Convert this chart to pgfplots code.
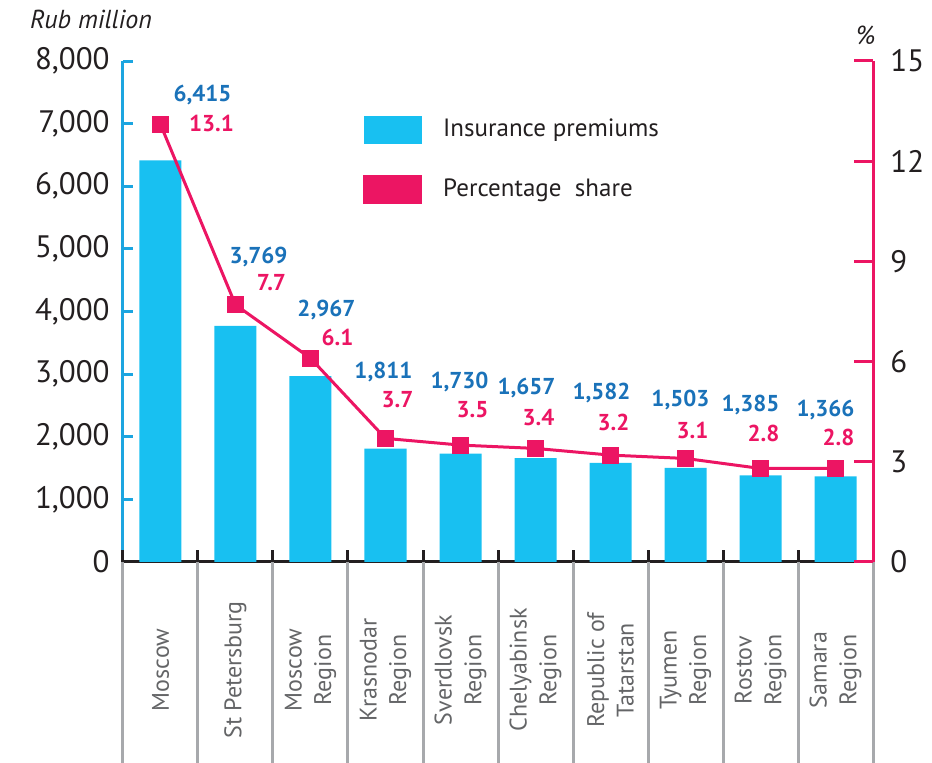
\documentclass[border=0pt]{standalone}
\usepackage{pgfplots}
\pgfplotsset{compat=1.18}
\usepackage{fontspec}
\setmainfont{PT Sans}
\definecolor{barcyan}{HTML}{18C0F1}
\definecolor{lblblue}{HTML}{1A72B9}
\definecolor{pinkc}{HTML}{EC1563}
\definecolor{axblue}{HTML}{1CA5E0}
\definecolor{txt}{HTML}{231F20}
\definecolor{sepgray}{HTML}{A7A9AC}
\begin{document}
\begin{tikzpicture}
\useasboundingbox (-61.5pt,-100.5pt) rectangle (404.5pt,281pt);
\begin{axis}[
  scale only axis, width=375pt, height=250.5pt,
  xmin=-0.5, xmax=9.5, ymin=0, ymax=8000,
  axis x line*=bottom, axis y line*=left,
  clip=false,
  x axis line style={txt, line width=1.5pt, -},
  y axis line style={axblue, line width=1.5pt, -},
  ytick={0,1000,...,8000},
  ytick style={axblue, line width=1.5pt},
  tick align=inside,
  major tick length=5pt,
  yticklabel style={font=\fontsize{15.5}{18}\selectfont, text=txt, inner sep=0pt, xshift=-6.5pt},
  /pgf/number format/assume math mode=true,
  /pgf/number format/1000 sep={,},
  scaled y ticks=false,
  xtick={0,...,9},
  xticklabels={Moscow, St Petersburg, Moscow\\Region, Krasnodar\\Region, Sverdlovsk\\Region, Chelyabinsk\\Region, Republic of\\Tatarstan, Tyumen\\Region, Rostov\\Region, Samara\\Region},
  xtick style={draw=none},
  xticklabel style={yshift=-54pt, rotate=90, anchor=center, align=center, font=\fontsize{12}{14.8}\selectfont, text=sepgray!60!black},
  ylabel={Rub million},
  ylabel style={at={(axis description cs:-0.0427,1.082)}, rotate=-90, anchor=center, font=\itshape\fontsize{13}{15}\selectfont, text=txt},
  legend style={draw=none, fill=none, at={(0.32,0.892)}, anchor=north west, inner sep=0pt, row sep=15.5pt, column sep=10.5pt, font=\fontsize{12.5}{15}\selectfont, text=txt, nodes={inner sep=0pt, anchor=west}},
  legend cell align=left,
]
\pgfplotsinvokeforeach{-0.5,0.5,...,9.5}{
  \draw[sepgray, line width=1.5pt] (axis cs:#1,0) -- ++(0pt,-101pt);
  \draw[txt, line width=1.5pt] (axis cs:#1,0) -- ++(0pt,6pt);
}
\addplot[ybar, bar width=21pt, fill=barcyan, draw=none,
  legend image code/.code={\fill[barcyan] (0pt,-7pt) rectangle (29pt,7pt);}]
  coordinates {(0,6415) (1,3769) (2,2967) (3,1811) (4,1730) (5,1657) (6,1582) (7,1503) (8,1385) (9,1366)};
\addlegendentry{Insurance premiums}
\addlegendimage{legend image code/.code={\fill[pinkc] (0pt,-7pt) rectangle (29pt,7pt);}}
\addlegendentry{Percentage~ share}
% value labels
\tikzset{bl/.style={font=\bfseries\fontsize{11.5}{13}\selectfont, text=lblblue, inner sep=0pt},
         pl/.style={font=\bfseries\fontsize{11.5}{13}\selectfont, text=pinkc, inner sep=0pt}}
\node[bl] at (axis cs:0.56,7457) {6,415};
\node[bl] at (axis cs:1.307,4870) {3,769};
\node[bl] at (axis cs:2.213,4024) {2,967};
\node[bl] at (axis cs:2.973,3034) {1,811};
\node[bl] at (axis cs:3.987,2874) {1,730};
\node[bl] at (axis cs:4.88,2778) {1,657};
\node[bl] at (axis cs:5.88,2699) {1,582};
\node[bl] at (axis cs:6.933,2587) {1,503};
\node[bl] at (axis cs:7.867,2507) {1,385};
\node[bl] at (axis cs:8.867,2427) {1,366};
\node[pl] at (axis cs:0.68,7010) {13.1};
\node[pl] at (axis cs:1.48,4455) {7.7};
\node[pl] at (axis cs:2.36,3593) {6.1};
\node[pl] at (axis cs:3.16,2587) {3.7};
\node[pl] at (axis cs:4.16,2427) {3.5};
\node[pl] at (axis cs:5.04,2299) {3.4};
\node[pl] at (axis cs:6.04,2236) {3.2};
\node[pl] at (axis cs:7.093,2108) {3.1};
\node[pl] at (axis cs:8.04,2060) {2.8};
\node[pl] at (axis cs:9.04,1996) {2.8};
\end{axis}
\begin{axis}[
  scale only axis, width=375pt, height=250.5pt,
  xmin=-0.5, xmax=9.5, ymin=0, ymax=15,
  axis x line=none, axis y line*=right,
  clip=false,
  y axis line style={pinkc, line width=1.5pt, -},
  ytick={0,3,...,15},
  ytick style={pinkc, line width=1.5pt},
  tick align=inside,
  major tick length=9.5pt,
  yticklabel style={font=\fontsize{15.5}{18}\selectfont, text=txt, inner sep=0pt, xshift=8.5pt},
  /pgf/number format/assume math mode=true,
  ylabel={\%},
  ylabel style={at={(axis description cs:0.9907,1.052)}, rotate=-90, anchor=center, font=\itshape\fontsize{13}{15}\selectfont, text=txt},
]
\addplot[pinkc, line width=1.5pt, mark=square*, mark size=4pt, mark options={fill=pinkc, draw=pinkc, line width=0pt}]
  coordinates {(0,13.1) (1,7.7) (2,6.1) (3,3.7) (4,3.5) (5,3.4) (6,3.2) (7,3.1) (8,2.8) (9,2.8)};
\end{axis}
\end{tikzpicture}
\end{document}
